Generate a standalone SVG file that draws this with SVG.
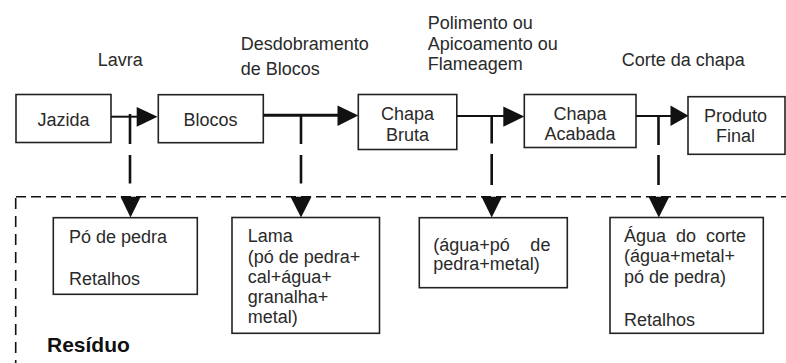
<svg xmlns="http://www.w3.org/2000/svg" width="786" height="363" viewBox="0 0 786 363">
  <style>
    text { font-family: "Liberation Sans", Arial, sans-serif; font-size: 18px; fill: #2a2a2a; }
    .box { fill: #fff; stroke: #222; stroke-width: 1.6; }
    .flow { stroke: #111; fill: none; }
    .drop { stroke: #111; stroke-width: 2.6; fill: none; }
    .head { fill: #111; }
    .zone { stroke: #111; stroke-width: 1.6; fill: none; }
    .title { font-weight: bold; font-size: 21px; fill: #111; }
    .mid { text-anchor: middle; }
  </style>

  <!-- waste zone border -->
  <g id="residuo-zone">
    <line class="zone" x1="16" y1="196.7" x2="786" y2="196.7" stroke-dasharray="10 5"/>
    <line class="zone" x1="15.7" y1="198" x2="15.7" y2="363" stroke-dasharray="11 7"/>
    <text class="title" x="47" y="352">Resíduo</text>
  </g>

  <!-- process step labels -->
  <g id="step-labels">
    <text x="97.7" y="66">Lavra</text>
    <text x="240.7" y="50">Desdobramento</text>
    <text x="240.7" y="75">de Blocos</text>
    <text x="427.7" y="29">Polimento ou</text>
    <text x="427.7" y="50">Apicoamento ou</text>
    <text x="427.7" y="70">Flameagem</text>
    <text x="621.7" y="66">Corte da chapa</text>
  </g>

  <!-- main chain -->
  <g id="jazida">
    <rect class="box" x="16" y="94.5" width="95" height="48"/>
    <text class="mid" x="63.5" y="126">Jazida</text>
  </g>
  <g id="blocos">
    <rect class="box" x="158.3" y="94.7" width="105" height="48"/>
    <text class="mid" x="210.5" y="126">Blocos</text>
  </g>
  <g id="chapa-bruta">
    <rect class="box" x="358.3" y="94.5" width="98.5" height="55"/>
    <text class="mid" x="407.5" y="120">Chapa</text>
    <text class="mid" x="407.5" y="140.5">Bruta</text>
  </g>
  <g id="chapa-acabada">
    <rect class="box" x="524.3" y="94.5" width="111.7" height="53"/>
    <text class="mid" x="580" y="120">Chapa</text>
    <text class="mid" x="580" y="139.5">Acabada</text>
  </g>
  <g id="produto-final">
    <rect class="box" x="688" y="96.7" width="97" height="57.6"/>
    <text class="mid" x="735.5" y="121.7">Produto</text>
    <text class="mid" x="735.5" y="141.7">Final</text>
  </g>

  <!-- waste boxes -->
  <g id="residuo-lavra">
    <rect class="box" x="53.3" y="217.7" width="144" height="76.6"/>
    <text x="69" y="242.5">Pó de pedra</text>
    <text x="69" y="285">Retalhos</text>
  </g>
  <g id="residuo-desdobramento">
    <rect class="box" x="232" y="217.5" width="147.5" height="115.8"/>
    <text x="247.7" y="242.3">Lama</text>
    <text x="247.7" y="262.5">(pó de pedra+</text>
    <text x="247.7" y="283">cal+água+</text>
    <text x="247.7" y="303.3">granalha+</text>
    <text x="247.7" y="323.3">metal)</text>
  </g>
  <g id="residuo-polimento">
    <rect class="box" x="419.3" y="217.7" width="148" height="70"/>
    <text x="433.3" y="251" word-spacing="15.5">(água+pó de</text>
    <text x="433.3" y="269.5">pedra+metal)</text>
  </g>
  <g id="residuo-corte">
    <rect class="box" x="610" y="217.5" width="153.3" height="115.8"/>
    <text x="624" y="241.7" word-spacing="5">Água do corte</text>
    <text x="624" y="262.3">(água+metal+</text>
    <text x="624" y="282.7">pó de pedra)</text>
    <text x="624" y="325.5">Retalhos</text>
  </g>

  <!-- connectors -->
  <g id="connectors">
    <!-- forward flow -->
    <line class="flow" stroke-width="2" x1="111" y1="116.7" x2="138" y2="116.7"/>
    <polygon class="head" points="136.7,107 157.5,116.8 136.7,126.8"/>
    <line class="flow" stroke-width="3" x1="263" y1="115.3" x2="339" y2="115.3"/>
    <polygon class="head" points="337.5,105.5 358.3,115.6 337.5,126"/>
    <line class="flow" stroke-width="2" x1="457" y1="116" x2="505" y2="116"/>
    <polygon class="head" points="503.3,106.5 524.3,116.4 503.3,126.7"/>
    <line class="flow" stroke-width="2" x1="636" y1="116" x2="672" y2="116"/>
    <polygon class="head" points="670.5,105.5 688.5,115.8 670.5,126"/>

    <!-- waste drops -->
    <path class="drop" d="M130,114 V144 M130,155 V183.5"/>
    <polygon class="head" points="120.5,196.7 140.7,196.7 130.5,217.5"/>
    <path class="drop" d="M301,115 V144 M301,155 V183.5"/>
    <polygon class="head" points="290.5,196.7 311.5,196.7 301,217.5"/>
    <path class="drop" d="M491.7,116 V143.5 M491.7,154 V185"/>
    <polygon class="head" points="481.5,196.7 502,196.7 491.7,217.5"/>
    <path class="drop" d="M658.5,116 V145 M658.5,155 V185"/>
    <polygon class="head" points="648.5,196.7 669.3,196.7 658.8,217.5"/>
  </g>
</svg>
